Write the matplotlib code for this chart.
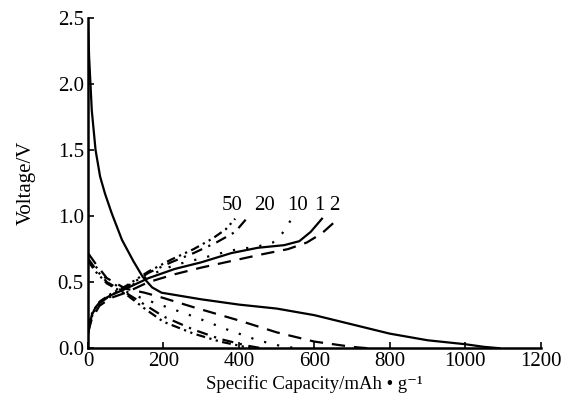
import matplotlib
matplotlib.use("Agg")
import matplotlib.pyplot as plt

# cycle 1 (solid)
c1_dis_x = [0, 3, 10, 20, 32, 45, 63, 90, 120, 145, 170, 195, 300, 400, 500, 600, 700, 800, 900, 1000, 1050, 1090]
c1_dis_y = [2.45, 2.2, 1.8, 1.5, 1.3, 1.17, 1.02, 0.82, 0.66, 0.54, 0.46, 0.42, 0.37, 0.33, 0.3, 0.25, 0.18, 0.11, 0.06, 0.03, 0.01, 0.0]
c1_chg_x = [0, 5, 10, 20, 35, 60, 100, 160, 230, 300, 380, 450, 520, 560, 590, 620]
c1_chg_y = [0.1, 0.18, 0.25, 0.31, 0.36, 0.4, 0.45, 0.53, 0.6, 0.65, 0.72, 0.76, 0.78, 0.81, 0.88, 0.98]

# cycle 2 (dashed)
c2_dis_x = [0, 20, 50, 100, 150, 200, 280, 400, 500, 600, 700, 740]
c2_dis_y = [0.72, 0.64, 0.53, 0.45, 0.42, 0.38, 0.31, 0.21, 0.12, 0.05, 0.01, 0.0]
c2_chg_x = [0, 10, 30, 60, 100, 160, 230, 300, 380, 460, 530, 580, 620, 663]
c2_chg_y = [0.12, 0.22, 0.32, 0.38, 0.42, 0.5, 0.56, 0.61, 0.66, 0.71, 0.75, 0.8, 0.87, 0.98]

# cycle 10 (dotted)
c10_dis_x = [0, 20, 50, 100, 150, 200, 280, 370, 450, 520, 560]
c10_dis_y = [0.7, 0.62, 0.52, 0.43, 0.37, 0.32, 0.24, 0.14, 0.06, 0.01, 0.0]
c10_chg_x = [0, 10, 30, 60, 100, 160, 230, 300, 380, 450, 490, 515, 540]
c10_chg_y = [0.14, 0.24, 0.33, 0.39, 0.45, 0.55, 0.63, 0.68, 0.74, 0.77, 0.8, 0.87, 0.98]

# cycle 20 (dash-dot)
c20_dis_x = [0, 20, 50, 100, 150, 200, 280, 350, 420, 460]
c20_dis_y = [0.68, 0.6, 0.5, 0.42, 0.33, 0.24, 0.14, 0.07, 0.02, 0.0]
c20_chg_x = [0, 10, 30, 60, 100, 160, 220, 280, 340, 390, 420]
c20_chg_y = [0.15, 0.25, 0.34, 0.4, 0.46, 0.57, 0.65, 0.72, 0.8, 0.88, 0.98]

# cycle 50 (dash-dot-dot)
c50_dis_x = [0, 20, 50, 100, 150, 200, 280, 350, 400, 430]
c50_dis_y = [0.66, 0.58, 0.49, 0.41, 0.3, 0.2, 0.11, 0.05, 0.02, 0.0]
c50_chg_x = [0, 10, 30, 60, 100, 160, 220, 280, 330, 365, 390]
c50_chg_y = [0.16, 0.26, 0.35, 0.41, 0.47, 0.58, 0.67, 0.75, 0.83, 0.9, 0.98]

labels = ["50", "20", "10", "1", "2"]
label_x = [382, 468, 556, 614, 652]
label_y = 1.08

plt.rcParams['font.family'] = ['Liberation Serif', 'DejaVu Serif']

fig = plt.figure(figsize=(5.79, 4.17), dpi=100)
ax = fig.add_axes([0.152, 0.165, 0.782, 0.792])

k = dict(color='black', linewidth=1.6)
ax.plot(c1_dis_x, c1_dis_y, '-', **k)
ax.plot(c1_chg_x, c1_chg_y, '-', **k)
ax.plot(c2_dis_x, c2_dis_y, linestyle=(0, (6, 4)), **k)
ax.plot(c2_chg_x, c2_chg_y, linestyle=(0, (6, 4)), **k)
ax.plot(c10_dis_x, c10_dis_y, linestyle=(0, (1, 5)), **k)
ax.plot(c10_chg_x, c10_chg_y, linestyle=(0, (1, 5)), **k)
ax.plot(c20_dis_x, c20_dis_y, linestyle=(0, (5, 3, 1, 3)), **k)
ax.plot(c20_chg_x, c20_chg_y, linestyle=(0, (5, 3, 1, 3)), **k)
ax.plot(c50_dis_x, c50_dis_y, linestyle=(0, (4, 2, 1, 2, 1, 2)), **k)
ax.plot(c50_chg_x, c50_chg_y, linestyle=(0, (4, 2, 1, 2, 1, 2)), **k)

for t, x in zip(labels, label_x):
    ax.text(x, label_y, t, fontsize=15, ha='center', va='center')

ax.set_xlim(0, 1200)
ax.set_ylim(0, 2.5)
ax.set_xticks([0, 200, 400, 600, 800, 1000, 1200])
ax.set_yticks([0.0, 0.5, 1.0, 1.5, 2.0, 2.5])
ax.set_yticklabels(['0.0', '0.5', '1.0', '1.5', '2.0', '2.5'])
ax.spines['top'].set_visible(False)
ax.spines['right'].set_visible(False)
ax.spines['left'].set_linewidth(1.8)
ax.spines['bottom'].set_linewidth(1.8)
ax.tick_params(direction='in', length=4, width=1.2, labelsize=15, pad=3)
ax.set_xlabel('Specific Capacity/mAh \u2022 g\u207b\u00b9', fontsize=13.5, labelpad=3)
ax.set_ylabel('Voltage/V', fontsize=15, labelpad=16)

fig.savefig('out.png', dpi=100)
